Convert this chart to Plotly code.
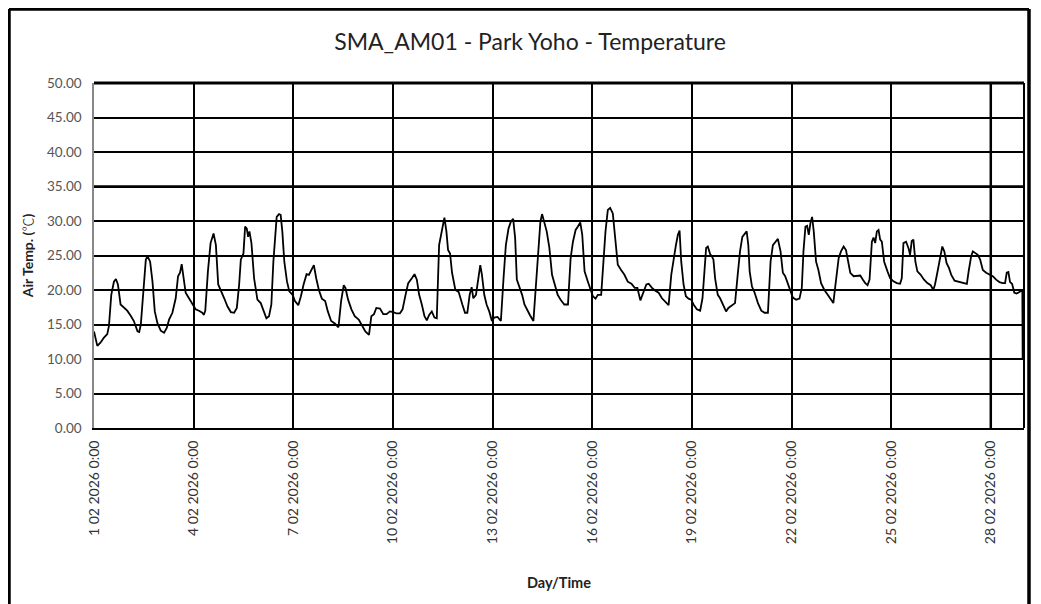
import pandas as pd
import plotly.graph_objects as go

# Days since 1 Feb 2026 00:00 (fractional) and air temperature readings
day_offsets = [
    0.00, 0.10, 0.20, 0.30, 0.40, 0.45, 0.52, 0.60, 0.66, 0.72, 0.80, 0.90, 1.00, 1.10, 1.20, 1.31, 1.36, 1.41,
    1.49, 1.56, 1.61, 1.69, 1.76, 1.83, 1.91, 2.01, 2.11, 2.19, 2.26, 2.36, 2.46, 2.53, 2.59, 2.64, 2.69, 2.76,
    2.86, 2.96, 3.06, 3.16, 3.26, 3.31, 3.35, 3.43, 3.51, 3.60, 3.67, 3.74, 3.82, 3.92, 4.02, 4.12, 4.22, 4.30,
    4.37, 4.42, 4.50, 4.55, 4.60, 4.64, 4.68, 4.74, 4.82, 4.92, 5.02, 5.12, 5.19, 5.27, 5.34, 5.40, 5.45, 5.50,
    5.57, 5.62, 5.67, 5.73, 5.81, 5.88, 5.98, 6.05, 6.15, 6.23, 6.31, 6.40, 6.47, 6.54, 6.62, 6.69, 6.77, 6.86,
    6.96, 7.04, 7.14, 7.26, 7.36, 7.44, 7.52, 7.57, 7.65, 7.75, 7.85, 7.97, 8.07, 8.17, 8.28, 8.35, 8.43, 8.50,
    8.61, 8.71, 8.81, 8.91, 9.01, 9.11, 9.21, 9.29, 9.38, 9.46, 9.57, 9.65, 9.72, 9.79, 9.87, 9.95, 10.02, 10.09,
    10.17, 10.25, 10.32, 10.39, 10.47, 10.55, 10.61, 10.66, 10.72, 10.78, 10.88, 10.98,
    11.09, 11.17, 11.24, 11.31, 11.37, 11.42, 11.50, 11.58, 11.63, 11.68, 11.75, 11.82, 11.90, 11.98, 12.05,
    12.15, 12.25, 12.33, 12.40, 12.48, 12.55, 12.62, 12.68, 12.73, 12.81, 12.89, 12.96, 13.06, 13.13, 13.23,
    13.31, 13.38, 13.44, 13.49, 13.56, 13.63, 13.71, 13.79, 13.86, 13.96, 14.06, 14.16, 14.27, 14.35, 14.42,
    14.50, 14.57, 14.64, 14.70, 14.77, 14.87, 14.95, 15.02, 15.10, 15.17, 15.27, 15.34, 15.40, 15.47, 15.54,
    15.62, 15.70, 15.77, 15.87, 15.97, 16.07, 16.18, 16.28, 16.36, 16.45, 16.53, 16.63,
    16.70, 16.80, 16.90, 17.00, 17.10, 17.20, 17.30, 17.38, 17.45, 17.52, 17.58, 17.63, 17.68, 17.75, 17.82,
    17.90, 17.98, 18.05, 18.15, 18.25, 18.32, 18.38, 18.43, 18.48, 18.55, 18.60, 18.65, 18.70, 18.78, 18.85,
    18.93, 19.03, 19.10, 19.20, 19.30, 19.38, 19.45, 19.52, 19.60, 19.65, 19.70, 19.74, 19.81, 19.89, 19.99,
    20.09, 20.19, 20.29, 20.37, 20.44, 20.52, 20.59, 20.67, 20.74, 20.81, 20.89, 20.97, 21.04, 21.14, 21.24,
    21.31, 21.36, 21.42, 21.47, 21.52, 21.57, 21.62, 21.67, 21.74, 21.81, 21.89, 21.99, 22.09, 22.19, 22.26,
    22.30, 22.36, 22.42, 22.49, 22.57, 22.64, 22.70, 22.77, 22.87, 22.97, 23.07, 23.15, 23.22, 23.29, 23.35,
    23.42, 23.47, 23.52, 23.57, 23.62, 23.67, 23.72, 23.79, 23.89, 23.97, 24.07, 24.17, 24.27, 24.32, 24.37,
    24.45, 24.52, 24.57, 24.62, 24.67, 24.73, 24.79, 24.89, 24.99, 25.09, 25.19, 25.27, 25.32, 25.39, 25.47,
    25.54, 25.60, 25.67, 25.74, 25.81, 25.91, 26.01, 26.11, 26.21, 26.28, 26.34, 26.41, 26.46, 26.54, 26.61,
    26.68, 26.76, 26.86, 26.96, 27.06, 27.16, 27.26, 27.36, 27.43, 27.48, 27.53, 27.58, 27.64, 27.71, 27.78,
    27.86, 27.92, 27.95, 27.96,
]
temps = [
    14.0, 11.9, 12.4, 13.1, 13.6, 14.8, 19.3, 21.2, 21.6, 20.8, 17.9, 17.4, 17.0, 16.3, 15.5, 14.0, 13.9, 15.0,
    20.3, 24.4, 24.9, 24.1, 21.25, 16.9, 15.2, 14.1, 13.8, 14.5, 15.7, 16.7, 18.8, 22.0, 22.5, 23.75, 22.0, 19.6,
    18.8, 18.0, 17.2, 17.0, 16.7, 16.4, 17.0, 22.7, 26.8, 28.2, 26.5, 20.8, 20.0, 18.8, 17.6, 16.8, 16.7, 17.4,
    20.8, 24.4, 25.3, 29.2, 28.9, 27.7, 28.5, 26.8, 21.7, 18.6, 18.1, 16.7, 15.9, 16.2, 17.9, 24.1, 28.0, 30.6,
    31.0, 30.9, 28.5, 24.1, 21.25, 19.8, 19.3, 18.4, 17.8, 19.1, 20.8, 22.3, 22.2, 22.9, 23.6, 21.7, 20.0, 18.75,
    18.4, 16.9, 15.5, 15.1, 14.6, 18.4, 20.7, 20.3, 18.6, 17.2, 16.2, 15.7, 14.8, 14.0, 13.5, 16.2, 16.5, 17.4,
    17.3, 16.5, 16.5, 16.9, 16.8, 16.6, 16.6, 17.2, 19.3, 21.0, 21.7, 22.3, 21.5, 19.3, 17.9, 16.2, 15.6, 16.4,
    16.9, 16.0, 15.9, 26.5, 28.5, 30.5, 28.5, 25.8, 25.3, 22.5, 20.0, 19.7,
    17.9, 16.7, 16.7, 19.3, 20.4, 18.8, 19.3, 21.7, 23.6, 22.2, 19.3, 17.9, 16.9, 15.5, 16.0,
    16.1, 15.5, 21.7, 26.5, 28.9, 29.9, 30.3, 27.5, 21.5, 20.5, 19.3, 17.9, 16.9, 16.3, 15.5,
    21.25, 26.5, 29.9, 31.0, 29.9, 28.5, 26.1, 22.2, 21.0, 19.3, 18.5, 17.9, 17.9, 24.6, 27.0,
    28.7, 29.2, 29.8, 28.0, 22.7, 21.2, 20.0, 19.1, 18.75, 19.3, 19.3, 24.1, 28.5, 31.6, 31.9,
    31.1, 27.5, 23.65, 22.9, 22.2, 21.2, 20.9, 20.3, 20.3, 18.5, 19.6, 20.8,
    20.9, 20.3, 19.9, 19.6, 18.8, 18.3, 17.8, 22.2, 24.6, 26.5, 28.0, 28.6, 24.1, 20.8, 19.1,
    18.75, 18.6, 17.9, 17.2, 17.0, 18.8, 23.2, 26.1, 26.3, 25.2, 24.9, 24.4, 21.7, 19.3, 18.8,
    17.9, 16.9, 17.4, 17.8, 18.1, 22.2, 25.6, 27.7, 28.2, 28.5, 26.5, 22.7, 20.5, 19.6, 18.1,
    17.0, 16.7, 16.7, 24.1, 26.5, 27.0, 27.4, 25.6, 22.5, 22.0, 20.8, 19.6, 18.9, 18.6, 18.75,
    20.3, 25.6, 29.2, 29.3, 28.0, 29.7, 30.6, 28.5, 24.1, 22.9, 21.0, 20.0, 19.3, 18.5, 18.1,
    19.8, 22.7, 24.6, 25.6, 26.3, 25.8, 24.1, 22.5, 22.0, 22.0, 22.1, 21.5, 21.0, 20.7, 21.5,
    27.0, 27.6, 26.8, 28.5, 28.7, 27.3, 27.0, 24.1, 22.7, 21.7, 21.25, 21.0, 20.9, 21.7, 26.8,
    27.0, 26.1, 25.1, 27.1, 27.3, 24.1, 22.7, 22.2, 21.5, 21.0, 20.7, 20.0, 20.8, 22.5, 24.6,
    26.3, 25.6, 23.9, 23.2, 22.2, 21.35, 21.25, 21.15, 21.0, 20.9, 22.9, 24.9, 25.6, 25.3, 25.1,
    24.4, 22.9, 22.5, 22.2, 22.0, 21.5, 21.15, 21.0, 21.0, 22.5, 22.6, 21.15, 20.9, 19.6, 19.5,
    19.7, 19.9, 20.0, 10.0,
]

title_text = "SMA_AM01 - Park Yoho - Temperature"
y_title_main = "Air Temp. ("
y_title_unit = "℃"
x_title = "Day/Time"
y_ticks = [0, 5, 10, 15, 20, 25, 30, 35, 40, 45, 50]

start = pd.Timestamp("2026-02-01 00:00")
times = [start + pd.Timedelta(days=d) for d in day_offsets]

FONT = "Lato, 'Noto Sans CJK JP'"

fig = go.Figure()
fig.add_trace(go.Scatter(x=times, y=temps, mode="lines",
                         line=dict(color="black", width=1.8), showlegend=False,
                         hoverinfo="skip"))

y_title_html = ("<b>" + y_title_main + "</b>"
                + "<span style=\"font-family:'Noto Sans CJK JP';font-weight:300\">" + y_title_unit + "</span>"
                + "<b>)</b>")

fig.update_layout(
    width=1041, height=604,
    margin=dict(l=86, r=25, t=75, b=184, autoexpand=False),
    paper_bgcolor="white", plot_bgcolor="white",
    title=dict(text=title_text, x=522 / 1041, xref="container", xanchor="center",
               y=1 - 34 / 604, yanchor="middle",
               font=dict(family=FONT, size=23, color="#222222")),
    font=dict(family=FONT, color="#404040"),
    xaxis=dict(
        type="date",
        range=[start, start + pd.Timedelta(days=28)],
        tick0=start, dtick=3 * 86400000,
        tickformat="%-d %m %Y %-H:%M", tickangle=-90,
        tickfont=dict(family=FONT, size=14, color="#333333"),
        showgrid=True, gridcolor="black", gridwidth=1.5,
        showline=True, linecolor="black", linewidth=2, mirror=False,
        ticks="", zeroline=False, ticklabelstandoff=5,
        title=dict(text="<b>" + x_title + "</b>", standoff=35,
                   font=dict(family=FONT, size=14.5, color="#222222")),
    ),
    yaxis=dict(
        range=[0, 50], tickvals=y_ticks,
        tickformat=".2f",
        tickfont=dict(family=FONT, size=13.5, color="#555555"),
        showgrid=True, gridcolor="black", gridwidth=1.5,
        showline=True, linecolor="#888888", linewidth=1.5,
        ticks="", zeroline=False, ticklabelstandoff=8,
        title=dict(text=y_title_html, standoff=10,
                   font=dict(family=FONT, size=14, color="#222222")),
    ),
)

# Heavier top border, right border and a couple of heavier grid lines
fig.add_shape(type="line", xref="paper", yref="paper", x0=0, x1=1, y0=1, y1=1,
              line=dict(color="black", width=3))
fig.add_shape(type="line", xref="paper", yref="paper", x0=1, x1=1, y0=0, y1=1,
              line=dict(color="black", width=2))
fig.add_shape(type="line", xref="paper", yref="y", x0=0, x1=1, y0=35, y1=35,
              line=dict(color="black", width=2.5))
fig.add_shape(type="line", xref="x", yref="paper",
              x0=start + pd.Timedelta(days=27), x1=start + pd.Timedelta(days=27), y0=0, y1=1,
              line=dict(color="black", width=2.5))
# outer frame (left, top, right of the picture)
fx0 = (9 - 94) / 930
fx1 = (1029 - 94) / 930
fy_top = (428 - 9) / 345
fy_bot = (428 - 640) / 345
fig.add_shape(type="line", xref="paper", yref="paper", x0=fx0, x1=fx1, y0=fy_top, y1=fy_top,
              line=dict(color="black", width=3.5))
fig.add_shape(type="line", xref="paper", yref="paper", x0=fx0, x1=fx0, y0=fy_bot, y1=fy_top,
              line=dict(color="black", width=3.5))
fig.add_shape(type="line", xref="paper", yref="paper", x0=fx1, x1=fx1, y0=fy_bot, y1=fy_top,
              line=dict(color="black", width=3.5))

fig.write_html("out.html")
